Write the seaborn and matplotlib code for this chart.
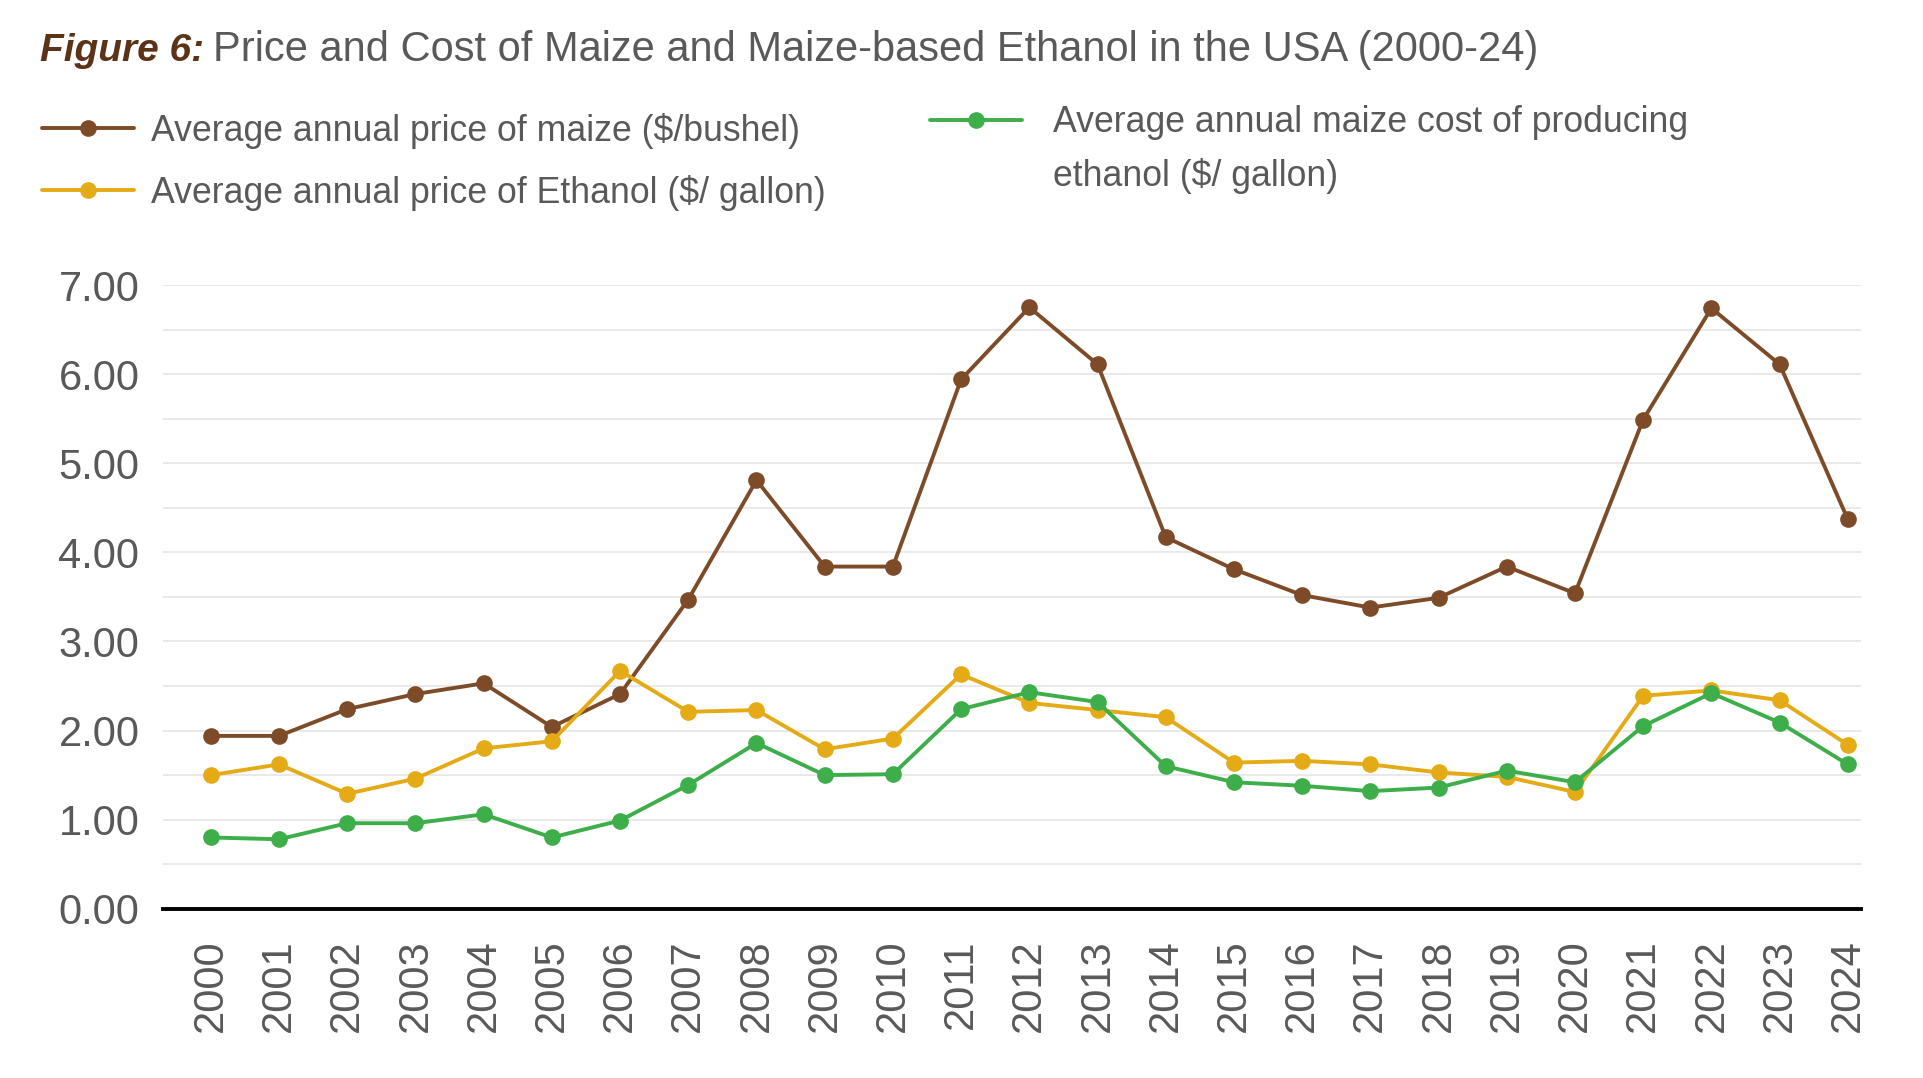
import numpy as np
import pandas as pd
import matplotlib
matplotlib.use("Agg")
import matplotlib.pyplot as plt
from matplotlib.lines import Line2D
import seaborn as sns

# values
years = list(range(2000, 2025))
maize_price = [1.94, 1.94, 2.24, 2.41, 2.53, 2.04, 2.41, 3.47, 4.81, 3.84,
               3.84, 5.94, 6.75, 6.11, 4.17, 3.81, 3.52, 3.38, 3.49, 3.84,
               3.54, 5.49, 6.74, 6.11, 4.37]
ethanol_price = [1.50, 1.62, 1.29, 1.46, 1.80, 1.88, 2.67, 2.21, 2.23, 1.79,
                 1.91, 2.63, 2.31, 2.23, 2.15, 1.64, 1.66, 1.62, 1.53, 1.48,
                 1.31, 2.39, 2.45, 2.34, 1.84]
maize_cost = [0.80, 0.78, 0.96, 0.96, 1.06, 0.80, 0.99, 1.39, 1.86, 1.50,
              1.51, 2.24, 2.43, 2.32, 1.60, 1.42, 1.38, 1.32, 1.36, 1.55,
              1.42, 2.05, 2.42, 2.09, 1.62]

labels = ["Average annual price of maize ($/bushel)",
          "Average annual price of Ethanol ($/ gallon)",
          "Average annual maize cost of producing\nethanol ($/ gallon)"]
colors = ["#7d4b28", "#e4ab17", "#3dae49"]

df = pd.DataFrame({
    "year": years * 3,
    "value": maize_price + ethanol_price + maize_cost,
    "series": [labels[0]] * 25 + [labels[1]] * 25 + [labels[2]] * 25,
})

sns.set_style("white")
plt.rcParams["font.family"] = ["Liberation Sans", "DejaVu Sans"]
text_grey = "#595959"
lw = 2.8
ms = 12

fig = plt.figure(figsize=(19.23, 10.78), dpi=100)
ax = fig.add_axes([0.0848, 0.157, 0.8832, 0.5786])

sns.lineplot(data=df, x="year", y="value", hue="series", hue_order=labels,
             palette=colors, marker="o", markersize=ms, markeredgewidth=0,
             linewidth=lw, ax=ax, legend=False)

ax.set_xlim(1999.3, 2024.2)
ax.set_ylim(0, 7.0)
ax.set_yticks(np.arange(0, 7.01, 1.0))
ax.set_yticklabels([f"{v:.2f}" for v in np.arange(0, 7.01, 1.0)],
                   fontsize=30, color=text_grey)
ax.set_yticks(np.arange(0, 7.01, 0.5), minor=True)
ax.set_xticks(years)
ax.set_xticklabels([str(y) for y in years], rotation=90, fontsize=30,
                   color=text_grey)
ax.tick_params(axis="both", length=0)
ax.tick_params(axis="y", pad=17)
ax.tick_params(axis="x", pad=22)
ax.grid(True, axis="y", which="both", color="#e3e3e3", linewidth=1.1)
ax.set_axisbelow(True)
ax.set_xlabel("")
ax.set_ylabel("")
for side in ["top", "right", "left"]:
    ax.spines[side].set_visible(False)
ax.spines["bottom"].set_color("black")
ax.spines["bottom"].set_linewidth(2.8)

# title
fig.text(0.021, 0.943, "Figure 6:", fontsize=28, fontweight="bold",
         fontstyle="italic", color="#5c3317", va="baseline")
fig.text(0.111, 0.943,
         "Price and Cost of Maize and Maize-based Ethanol in the USA (2000-24)",
         fontsize=30, color=text_grey, va="baseline")

# legend
hand = [Line2D([], [], color=c, linewidth=lw, marker="o", markersize=ms,
               markeredgewidth=0) for c in colors]
fig.legend(hand[:2], labels[:2], loc="upper left",
           bbox_to_anchor=(0.005, 0.925), frameon=False, fontsize=25.7,
           labelcolor=text_grey, handlelength=2.58, handletextpad=0.48,
           labelspacing=0.72)
blank = Line2D([], [], color="none")
fig.legend([hand[2], blank], labels[2].split("\n"), loc="upper left",
           bbox_to_anchor=(0.467, 0.932), frameon=False, fontsize=25.7,
           labelcolor=text_grey, handlelength=2.58, handletextpad=0.86,
           labelspacing=0.5)

fig.savefig("out.png", dpi=100)
